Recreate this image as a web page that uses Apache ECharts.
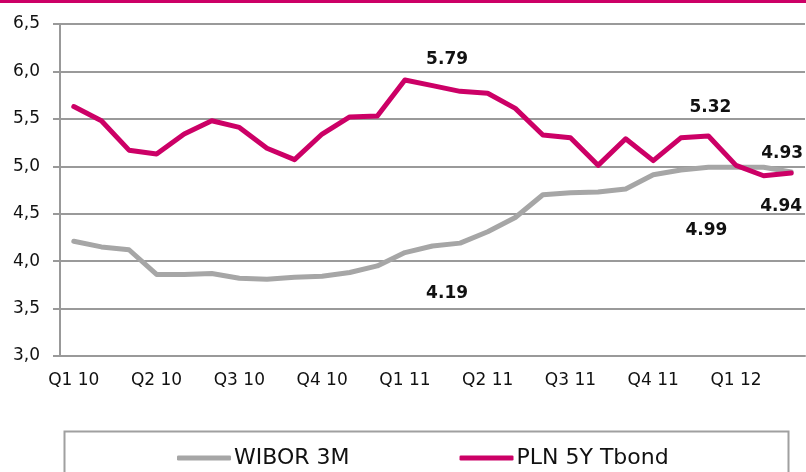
<!DOCTYPE html>
<html>
<head>
<meta charset="utf-8">
<script src="https://cdn.jsdelivr.net/npm/echarts@6/dist/echarts.min.js"></script>
<style>
    html, body { margin: 0; padding: 0; background: #fff; }
    #chart { width: 806px; height: 472px; }
</style>
</head>
<body>
<div id="chart"></div>
<script>
// monthly points, Jan 2010 - Mar 2012
var months = ['Jan 10', 'Feb 10', 'Mar 10', 'Apr 10', 'May 10', 'Jun 10', 'Jul 10', 'Aug 10', 'Sep 10',
    'Oct 10', 'Nov 10', 'Dec 10', 'Jan 11', 'Feb 11', 'Mar 11', 'Apr 11', 'May 11', 'Jun 11',
    'Jul 11', 'Aug 11', 'Sep 11', 'Oct 11', 'Nov 11', 'Dec 11', 'Jan 12', 'Feb 12', 'Mar 12'];
var quarterLabels = ['Q1 10', 'Q2 10', 'Q3 10', 'Q4 10', 'Q1 11', 'Q2 11', 'Q3 11', 'Q4 11', 'Q1 12'];

var wibor3m = [4.21, 4.15, 4.12, 3.86, 3.86, 3.87, 3.82, 3.81, 3.83, 3.84, 3.88, 3.95, 4.09, 4.16,
    4.19, 4.31, 4.46, 4.70, 4.72, 4.73, 4.76, 4.91, 4.96, 4.99, 4.99, 4.99, 4.94];
var tbond5y = [5.63, 5.48, 5.17, 5.13, 5.34, 5.48, 5.41, 5.19, 5.07, 5.34, 5.52, 5.53, 5.91, 5.85,
    5.79, 5.77, 5.61, 5.33, 5.30, 5.01, 5.29, 5.06, 5.30, 5.32, 5.01, 4.90, 4.93];

// months that carry a value label
var labelIdx = [14, 23, 26];

var MAGENTA = '#cc0066';
var GREY = '#a6a6a6';
var FONT = 'DejaVu Sans';

function valueMarks(values, offsets) {
    var out = [];
    for (var i = 0; i < labelIdx.length; i++) {
        var k = labelIdx[i];
        out.push({
            coord: [k, values[k]],
            value: values[k].toFixed(2),
            label: { offset: offsets[i] }
        });
    }
    return {
        symbol: 'circle',
        symbolSize: 0,
        silent: true,
        label: {
            show: true,
            position: 'inside',
            color: '#111',
            fontFamily: FONT,
            fontWeight: 'bold',
            fontSize: 17,
            formatter: function (p) { return p.value; }
        },
        data: out
    };
}

var chart = echarts.init(document.getElementById('chart'));

chart.setOption({
    animation: false,
    backgroundColor: '#fff',
    grid: { left: 60, right: 1, top: 24, bottom: 116 },
    legend: {
        left: 172,
        top: 442,
        itemWidth: 54,
        itemHeight: 5,
        itemGap: 110,
        icon: 'roundRect',
        textStyle: { fontFamily: FONT, fontSize: 22, color: '#111', padding: [0, 0, 0, -2] },
        data: ['WIBOR 3M', 'PLN 5Y Tbond']
    },
    xAxis: {
        type: 'category',
        data: months,
        boundaryGap: true,
        axisLine: { lineStyle: { color: '#999', width: 2 } },
        axisTick: { interval: 2, length: 7, lineStyle: { color: '#999', width: 2 } },
        axisLabel: {
            interval: 2,
            margin: 16,
            fontFamily: FONT,
            fontSize: 17,
            color: '#111',
            formatter: function (v, i) { return quarterLabels[Math.floor(i / 3)]; }
        },
        splitLine: { show: false }
    },
    yAxis: {
        type: 'value',
        min: 3,
        max: 6.5,
        interval: 0.5,
        axisLine: { show: true, lineStyle: { color: '#999', width: 2 } },
        axisTick: { show: true, length: 7, lineStyle: { color: '#999', width: 2 } },
        axisLabel: {
            margin: 20,
            fontFamily: FONT,
            fontSize: 17,
            color: '#111',
            formatter: function (v) { return v.toFixed(1).replace('.', ','); }
        },
        splitLine: { lineStyle: { color: '#9a9a9a', width: 2 } }
    },
    series: [
        {
            name: 'WIBOR 3M',
            type: 'line',
            data: wibor3m,
            showSymbol: false,
            color: GREY,
            lineStyle: { width: 5, color: GREY, join: 'round', cap: 'round' },
            markPoint: valueMarks(wibor3m, [[-13, 50], [-2, 63], [-10, 35]]),
            z: 2
        },
        {
            name: 'PLN 5Y Tbond',
            type: 'line',
            data: tbond5y,
            showSymbol: false,
            color: MAGENTA,
            lineStyle: { width: 5, color: MAGENTA, join: 'round', cap: 'round' },
            markPoint: valueMarks(tbond5y, [[-13, -32], [2, -28], [-9, -19]]),
            z: 3
        }
    ],
    graphic: [
        // magenta rule along the top edge
        { type: 'rect', left: 0, top: 0, shape: { width: 806, height: 3 }, style: { fill: MAGENTA } },
        // frame round the legend
        {
            type: 'rect', left: 62, top: 429,
            shape: { width: 724, height: 60 },
            style: { fill: 'none', stroke: '#a0a0a0', lineWidth: 2 },
            z: -1
        }
    ]
});
</script>
</body>
</html>
